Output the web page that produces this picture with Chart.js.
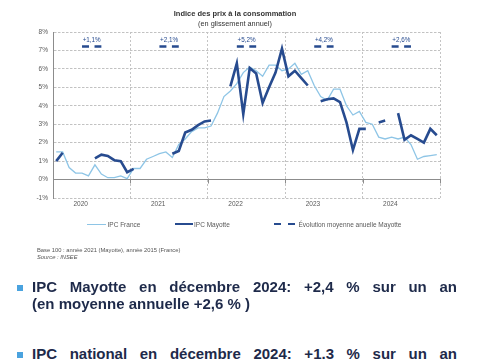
<!DOCTYPE html>
<html lang="fr">
<head>
<meta charset="utf-8">
<script src="https://cdn.jsdelivr.net/npm/chart.js@4/dist/chart.umd.min.js"></script>
<style>
  body { margin: 0; width: 485px; height: 360px; overflow: hidden; background: #fff; position: relative;
         font-family: "Liberation Sans", Arial, sans-serif; }
  #chart { position: absolute; left: 0; top: 0; }
  .t { position: absolute; white-space: nowrap; }
  .title { left: 0; width: 470px; text-align: center; top: 9px; font-weight: bold; font-size: 7.5px; line-height: 10px; color: #333; }
  .sub { left: 0; width: 470px; text-align: center; top: 19px; font-size: 7.3px; line-height: 10px; color: #333; }
  .leg { font-size: 6.5px; line-height: 8px; top: 220.5px; color: #595959; }
  .sw { position: absolute; height: 0; }
  .note { left: 37px; font-size: 5.8px; line-height: 7px; color: #555; }
  .big { position: absolute; left: 32px; width: 425px; font-weight: bold; font-size: 15px; line-height: 16px; color: #1e2a4a; }
  .just { text-align: justify; text-align-last: justify; }
  .sq { position: absolute; left: 17px; width: 6px; height: 6px; background: #4aa3df; }
</style>
</head>
<body>
<canvas id="chart" width="485" height="235"></canvas>

<div class="t title">Indice des prix à la consommation</div>
<div class="t sub">(en glissement annuel)</div>

<!-- legende -->
<div class="sw" style="left:87px;width:19px;top:224px;border-top:1.3px solid #8ec5e6"></div>
<div class="t leg" style="left:107.5px">IPC France</div>
<div class="sw" style="left:174.5px;width:18.5px;top:223px;border-top:2.6px solid #274b8f"></div>
<div class="t leg" style="left:194px">IPC Mayotte</div>
<div class="sw" style="left:274px;width:7px;top:223px;border-top:2.5px solid #274b8f"></div>
<div class="sw" style="left:288px;width:7px;top:223px;border-top:2.5px solid #274b8f"></div>
<div class="t leg" style="left:298.5px">Évolution moyenne anuelle Mayotte</div>

<div class="t note" style="top:247px">Base 100 : année 2021 (Mayotte), année 2015 (France)</div>
<div class="t note" style="top:254px;font-style:italic">Source : INSEE</div>

<div class="sq" style="top:285px"></div>
<div class="big just" style="top:279px">IPC Mayotte en décembre 2024: +2,4 % sur un an</div>
<div class="big" style="top:295.5px">(en moyenne annuelle +2,6 % )</div>

<div class="sq" style="top:352px"></div>
<div class="big just" style="top:346px">IPC national en décembre 2024: +1.3 % sur un an</div>

<script>
Chart.defaults.font.family = '"Liberation Sans", Arial, sans-serif';

const years = ['2020', '2021', '2022', '2023', '2024'];
const annualAvg = [1.1, 2.1, 5.2, 4.2, 2.6]; // evolution moyenne annuelle Mayotte

// glissement annuel, janvier 2020 -> decembre 2024
const franceIpc = [
  1.5, 1.5, 0.65, 0.35, 0.35, 0.2, 0.8, 0.3, 0.1, 0.1, 0.2, 0.05,
  0.6, 0.6, 1.1, 1.25, 1.4, 1.5, 1.2, 1.9, 2.2, 2.6, 2.8, 2.8,
  2.9, 3.6, 4.5, 4.8, 5.2, 5.8, 6.1, 5.9, 5.6, 6.2, 6.2, 5.9,
  6.0, 6.3, 5.7, 5.9, 5.1, 4.5, 4.3, 4.9, 4.9, 4.0, 3.5, 3.7,
  3.1, 3.0, 2.3, 2.2, 2.3, 2.2, 2.3, 1.9, 1.1, 1.25, 1.3, 1.35
];
const mayotteIpc = [
  1.0, 1.45, null, null, null, null, 1.15, 1.35, 1.28, 1.05, 1.0, 0.4,
  0.58, null, null, null, null, null, 1.4, 1.55, 2.55, 2.7, 2.95, 3.15,
  3.2, null, null, 5.05, 6.3, 3.55, 6.05, 5.75, 4.15, 5.0, 5.8, 7.1,
  5.6, 5.9, 5.5, 5.1, null, 4.25, 4.35, 4.4, 4.2, 3.1, 1.6, 2.75,
  2.75, null, 3.1, 3.2, null, 3.6, 2.15, 2.4, 2.2, 2.0, 2.75, 2.4
];

const markerLevel = 7.22; // hauteur des tirets de moyenne
const darkBlue = '#274b8f';
const lightBlue = '#8ec5e6';

const toPoints = vals => vals.map((v, i) => ({ x: i + 0.5, y: v }));

let avgPoints = [];
annualAvg.forEach((v, i) => {
  avgPoints.push({ x: i * 12 + 4.5, y: markerLevel });
  avgPoints.push({ x: i * 12 + 7.5, y: markerLevel });
  avgPoints.push({ x: i * 12 + 8, y: null });
});

const yearBounds = years.map((y, i) => i * 12).concat([years.length * 12]);
const yearLabelPos = years.map((y, i) => i * 12 + 4.3);
const xTicks = yearBounds.concat(yearLabelPos).sort((a, b) => a - b);

const avgLabels = {
  id: 'avgLabels',
  afterDatasetsDraw(chart) {
    const { ctx, scales: { x, y } } = chart;
    ctx.save();
    ctx.font = '6.3px "Liberation Sans", Arial, sans-serif';
    ctx.fillStyle = darkBlue;
    ctx.textAlign = 'center';
    ctx.textBaseline = 'middle';
    annualAvg.forEach((v, i) => {
      let px = x.getPixelForValue(i * 12 + 6);
      ctx.fillText('+' + v.toFixed(1).replace('.', ',') + '%', px, y.getPixelForValue(markerLevel) - 6.5);
    });
    // petits traits sur la ligne du zero
    ctx.strokeStyle = '#8c8c8c';
    ctx.lineWidth = 1;
    const y0 = Math.round(y.getPixelForValue(0)) + 0.5;
    yearBounds.forEach(b => {
      const px = Math.round(x.getPixelForValue(b)) + 0.5;
      ctx.beginPath();
      ctx.moveTo(px, y0 - 2);
      ctx.lineTo(px, y0 + 3);
      ctx.stroke();
    });
    ctx.restore();
  }
};

new Chart(document.getElementById('chart'), {
  type: 'line',
  data: {
    datasets: [
      { label: 'IPC France', data: toPoints(franceIpc), borderColor: lightBlue, borderWidth: 1.3, order: 2 },
      { label: 'IPC Mayotte', data: toPoints(mayotteIpc), borderColor: darkBlue, borderWidth: 2.6, order: 0 },
      { label: 'Évolution moyenne anuelle Mayotte', data: avgPoints, borderColor: darkBlue, borderWidth: 2.5,
        borderDash: [7, 5.5], order: 1 }
    ]
  },
  options: {
    responsive: false,
    animation: false,
    spanGaps: false,
    layout: { padding: { top: 32, right: 45, left: 0, bottom: 0 } },
    elements: { point: { radius: 0 }, line: { tension: 0, borderCapStyle: 'butt' } },
    plugins: { legend: { display: false }, tooltip: { enabled: false } },
    scales: {
      x: {
        type: 'linear', min: 0, max: 60,
        afterFit(s) { s.height = 37; },
        afterBuildTicks(s) { s.ticks = xTicks.map(v => ({ value: v })); },
        ticks: {
          autoSkip: false, maxRotation: 0, padding: 2, color: '#595959', font: { size: 6.5 },
          callback: v => { const i = yearLabelPos.indexOf(v); return i >= 0 ? years[i] : ''; }
        },
        grid: {
          drawTicks: false, lineWidth: 1,
          color: c => (c.tick && yearBounds.includes(c.tick.value)) ? '#c4c4c4' : 'rgba(0,0,0,0)'
        },
        border: { display: false, dash: [2, 2] }
      },
      y: {
        min: -1, max: 8,
        afterFit(s) { s.width = 53; },
        ticks: { stepSize: 1, padding: 5, color: '#595959', font: { size: 6.5 }, callback: v => v + '%' },
        grid: {
          drawTicks: false, lineWidth: 1,
          color: c => (c.tick && c.tick.value === 0) ? '#8c8c8c' : '#c2c2c2'
        },
        border: { display: true, color: '#8c8c8c', dash: c => (c.tick && c.tick.value === 0) ? [] : [2.5, 1.5] }
      }
    }
  },
  plugins: [avgLabels]
});
</script>
</body>
</html>
